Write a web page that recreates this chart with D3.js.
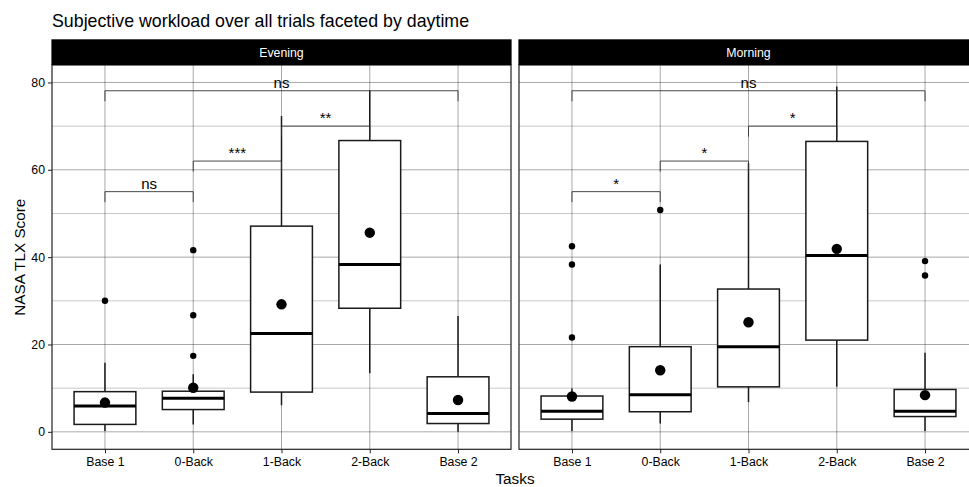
<!DOCTYPE html>
<html>
<head>
<meta charset="utf-8">
<script src="https://cdn.jsdelivr.net/npm/d3@7"></script>
<style>
  html, body { margin: 0; padding: 0; background: #fff; }
  svg { display: block; font-family: "Liberation Sans", Arial, sans-serif; }
</style>
</head>
<body>
<svg id="chart" width="969" height="487"></svg>
<script>
// Task order on the x axis and the two facets
const tasks = ["Base 1", "0-Back", "1-Back", "2-Back", "Base 2"];
const daytimes = ["Evening", "Morning"];
const yTicks = [0, 20, 40, 60, 80];
const yMinorTicks = [10, 30, 50, 70];

// Box statistics per facet, listed in task order
const whiskerLow  = { Evening: [0.2, 1.7, 6.1, 13.4, 0.0], Morning: [0.2, 1.9, 6.8, 10.3, 0.2] };
const q1          = { Evening: [1.7, 5.1, 9.1, 28.3, 1.9], Morning: [2.9, 4.6, 10.3, 21.0, 3.5] };
const median      = { Evening: [5.9, 7.7, 22.5, 38.3, 4.2], Morning: [4.7, 8.5, 19.5, 40.4, 4.7] };
const q3          = { Evening: [9.2, 9.3, 47.1, 66.7, 12.6], Morning: [8.2, 19.5, 32.7, 66.5, 9.7] };
const whiskerHigh = { Evening: [15.8, 13.2, 72.3, 78.2, 26.5], Morning: [9.9, 38.3, 61.5, 79.1, 18.1] };
const means       = { Evening: [6.7, 10.1, 29.2, 45.6, 7.3], Morning: [8.1, 14.1, 25.1, 41.9, 8.4] };
const outliers    = {
  Evening: [[30.0], [41.6, 26.7, 17.4], [], [], []],
  Morning: [[42.5, 38.3, 21.6], [50.8], [], [], [39.1, 35.8]]
};

// Pairwise comparisons: [from, to, bracket height, label]
const comparisons = {
  Evening: [["Base 1", "0-Back", 55, "ns"], ["0-Back", "1-Back", 62, "***"],
            ["1-Back", "2-Back", 70, "**"], ["Base 1", "Base 2", 78.1, "ns"]],
  Morning: [["Base 1", "0-Back", 55, "*"], ["0-Back", "1-Back", 62, "*"],
            ["1-Back", "2-Back", 70, "*"], ["Base 1", "Base 2", 78.1, "ns"]]
};
const tipLength = 2.4;

const svg = d3.select("#chart");
const panelTop = 65, panelBottom = 449.3, stripTop = 39.3;
const panelWidth = 459;
const panelLefts = [52, 519];

svg.append("text")
  .attr("x", 52).attr("y", 27)
  .attr("font-size", 17.8).attr("fill", "#000")
  .text("Subjective workload over all trials faceted by daytime");

const y = d3.scaleLinear().domain([-4, 84]).range([panelBottom, panelTop]);

svg.append("defs").append("clipPath").attr("id", "page")
  .append("rect").attr("x", 0).attr("y", 0).attr("width", 969).attr("height", 487);

daytimes.forEach((dt, pi) => {
  const x0 = panelLefts[pi];
  const x = d3.scalePoint().domain(tasks).range([x0, x0 + panelWidth]).padding(0.6);
  const step = x.step();
  const boxW = step * 0.7;
  const g = svg.append("g").attr("clip-path", "url(#page)");

  // grid
  g.selectAll(".minor").data(yMinorTicks).join("line")
    .attr("x1", x0).attr("x2", x0 + panelWidth)
    .attr("y1", d => y(d)).attr("y2", d => y(d))
    .attr("stroke", "#000").attr("stroke-opacity", 0.28).attr("stroke-width", 0.8);
  g.selectAll(".major").data(yTicks).join("line")
    .attr("x1", x0).attr("x2", x0 + panelWidth)
    .attr("y1", d => y(d)).attr("y2", d => y(d))
    .attr("stroke", "#000").attr("stroke-opacity", 0.38).attr("stroke-width", 0.9);
  g.selectAll(".vgrid").data(tasks).join("line")
    .attr("x1", d => x(d)).attr("x2", d => x(d))
    .attr("y1", panelTop).attr("y2", panelBottom)
    .attr("stroke", "#000").attr("stroke-opacity", 0.38).attr("stroke-width", 0.9);

  // whiskers
  tasks.forEach((t, i) => {
    const cx = x(t);
    g.append("line").attr("x1", cx).attr("x2", cx)
      .attr("y1", y(q3[dt][i])).attr("y2", y(whiskerHigh[dt][i]))
      .attr("stroke", "#1a1a1a").attr("stroke-width", 1.5);
    g.append("line").attr("x1", cx).attr("x2", cx)
      .attr("y1", y(q1[dt][i])).attr("y2", y(whiskerLow[dt][i]))
      .attr("stroke", "#1a1a1a").attr("stroke-width", 1.5);
  });

  // boxes
  tasks.forEach((t, i) => {
    const cx = x(t);
    g.append("rect")
      .attr("x", cx - boxW / 2).attr("width", boxW)
      .attr("y", y(q3[dt][i])).attr("height", y(q1[dt][i]) - y(q3[dt][i]))
      .attr("fill", "#fff").attr("stroke", "#1a1a1a").attr("stroke-width", 1.5);
    g.append("line")
      .attr("x1", cx - boxW / 2).attr("x2", cx + boxW / 2)
      .attr("y1", y(median[dt][i])).attr("y2", y(median[dt][i]))
      .attr("stroke", "#000").attr("stroke-width", 3);
    outliers[dt][i].forEach(v => {
      g.append("circle").attr("cx", cx).attr("cy", y(v)).attr("r", 3.2).attr("fill", "#000");
    });
    g.append("circle").attr("cx", cx).attr("cy", y(means[dt][i])).attr("r", 5.2).attr("fill", "#000");
  });

  // significance brackets
  comparisons[dt].forEach(([a, b, h, lab]) => {
    const xa = x(a), xb = x(b);
    g.append("path")
      .attr("d", `M${xa},${y(h - tipLength)}V${y(h)}H${xb}V${y(h - tipLength)}`)
      .attr("fill", "none").attr("stroke", "#333").attr("stroke-width", 0.9);
    g.append("text")
      .attr("x", (xa + xb) / 2).attr("y", y(h) - 3)
      .attr("text-anchor", "middle").attr("font-size", 15).attr("fill", "#000")
      .text(lab);
  });

  // panel border
  g.append("rect")
    .attr("x", x0).attr("y", panelTop).attr("width", panelWidth).attr("height", panelBottom - panelTop)
    .attr("fill", "none").attr("stroke", "#222").attr("stroke-width", 1.2);

  // strip
  g.append("rect")
    .attr("x", x0 - 0.6).attr("y", stripTop).attr("width", panelWidth + 1.2).attr("height", panelTop - stripTop)
    .attr("fill", "#000");
  g.append("text")
    .attr("x", x0 + panelWidth / 2).attr("y", 57.3)
    .attr("text-anchor", "middle").attr("font-size", 12.3).attr("fill", "#fff")
    .text(dt);

  // x axis
  const xAxis = g.append("g").attr("transform", `translate(0,${panelBottom})`)
    .call(d3.axisBottom(x).tickSize(4).tickPadding(4));
  xAxis.select(".domain").remove();
  xAxis.selectAll("line").attr("stroke", "#222").attr("stroke-width", 1);
  xAxis.selectAll("text").attr("font-size", 12.3).attr("fill", "#000")
    .attr("font-family", "Liberation Sans, Arial, sans-serif");

  // y axis on the first panel only
  if (pi === 0) {
    const yAxis = svg.append("g").attr("transform", `translate(${x0},0)`)
      .call(d3.axisLeft(y).tickValues(yTicks).tickSize(4).tickPadding(3));
    yAxis.select(".domain").remove();
    yAxis.selectAll("line").attr("stroke", "#222").attr("stroke-width", 1);
    yAxis.selectAll("text").attr("font-size", 12.3).attr("fill", "#000")
      .attr("font-family", "Liberation Sans, Arial, sans-serif");
  }
});

// axis titles
svg.append("text")
  .attr("x", (52 + 978) / 2).attr("y", 484)
  .attr("text-anchor", "middle").attr("font-size", 15.3).attr("fill", "#000")
  .text("Tasks");
svg.append("text")
  .attr("transform", `translate(25,${(panelTop + panelBottom) / 2}) rotate(-90)`)
  .attr("text-anchor", "middle").attr("font-size", 15.3).attr("fill", "#000")
  .text("NASA TLX Score");
</script>
</body>
</html>
